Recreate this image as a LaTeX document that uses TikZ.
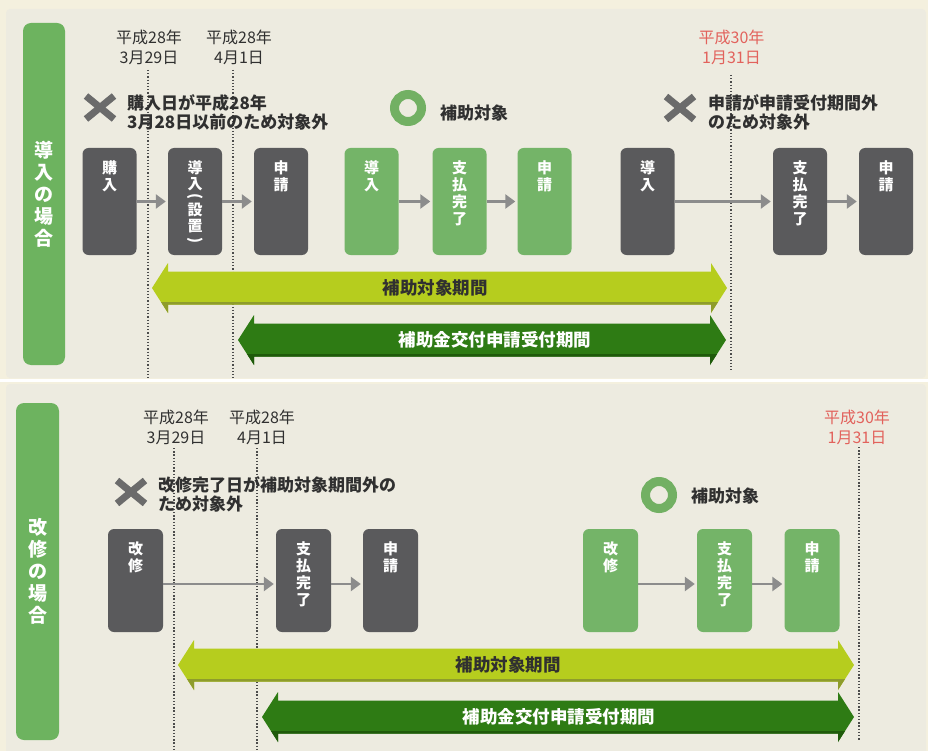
\documentclass[tikz,border=0pt]{standalone}
\usepackage{fontspec}
\usepackage{graphicx}
\newfontfamily\jp{Noto Sans CJK JP}
\usetikzlibrary{arrows.meta}
\definecolor{outerbg}{HTML}{F4F0DE}
\definecolor{panelbg}{HTML}{EDEBE0}
\definecolor{boxgray}{HTML}{5A5A5C}
\definecolor{boxgreen}{HTML}{74B468}
\definecolor{bargreen}{HTML}{6DB35F}
\definecolor{arrgray}{HTML}{8C8C8C}
\definecolor{xgray}{HTML}{6B6B6B}
\definecolor{ringgreen}{HTML}{72B063}
\definecolor{datered}{HTML}{E2625C}
\definecolor{lgreen}{HTML}{B6CD1E}
\definecolor{lgreenshade}{HTML}{8E9C2C}
\definecolor{dgreen}{HTML}{2E7B14}
\definecolor{dgreenshade}{HTML}{1F5A0B}
\definecolor{textdark}{HTML}{303030}
\tikzset{
 dbox/.style={rounded corners=6pt, fill=boxgray, minimum width=54pt, minimum height=107pt, inner sep=0pt},
 gbox/.style={dbox, fill=boxgreen},
 btxt/.style={font=\jp\bfseries\fontsize{15}{17}\selectfont, text=white, align=center, inner sep=0pt, anchor=north},
 bchar/.style={font=\jp\bfseries\fontsize{15}{17}\selectfont, text=white, inner sep=0pt},
 flow/.style={draw=arrgray, line width=2.8pt, -{Triangle[length=10pt,width=14pt]}, shorten >=2pt},
 vline/.style={draw=black!70, line width=1.3pt, dash pattern=on 1.3pt off 1.9pt},
 datetxt/.style={font=\jp\fontsize{16}{20}\selectfont, text=textdark, align=center, inner sep=0pt},
 labtxt/.style={font=\jp\bfseries\fontsize{17}{19}\selectfont, text=textdark, align=left, inner sep=0pt, anchor=west},
 xmark/.style={draw=xgray, line width=7pt},
 ring/.style={circle, draw=ringgreen, line width=9pt, minimum size=27pt, inner sep=0pt},
 sidebar/.style={rounded corners=8pt, fill=bargreen, inner sep=0pt},
 sidetxt/.style={font=\jp\bfseries\fontsize{19}{22}\selectfont, text=white, align=center, inner sep=0pt},
 arrtxt/.style={font=\jp\bfseries\fontsize{17.5}{20}\selectfont, inner sep=0pt},
}
% big double-headed band arrow: xl, xr, yc, fill, shade
\newcommand{\bigarr}[5]{%
 \path[fill=#4] (#1,#3) -- ({#1+16},{#3-25}) -- ({#1+16},{#3-16.5}) -- ({#2-16},{#3-16.5}) -- ({#2-16},{#3-25}) -- (#2,#3) -- ({#2-16},{#3+25}) -- ({#2-16},{#3+16.5}) -- ({#1+16},{#3+16.5}) -- ({#1+16},{#3+25}) -- cycle;
 \begin{scope}
 \clip (#1,#3) -- ({#1+16},{#3-25}) -- ({#1+16},{#3-16.5}) -- ({#2-16},{#3-16.5}) -- ({#2-16},{#3-25}) -- (#2,#3) -- ({#2-16},{#3+25}) -- ({#2-16},{#3+16.5}) -- ({#1+16},{#3+16.5}) -- ({#1+16},{#3+25}) -- cycle;
 \fill[#5] (#1,{#3+13.5}) rectangle (#2,{#3+30});
 \end{scope}
}
\begin{document}
\begin{tikzpicture}[x=1pt,y=-1pt]
\useasboundingbox (0,0) rectangle (928,751);
% backgrounds
\fill[outerbg] (0,0) rectangle (928,751);
\fill[panelbg, rounded corners=4pt] (6,9) rectangle (926,378);
\fill[white] (0,379) rectangle (928,381.5);
\fill[panelbg, rounded corners=4pt] (6,384) rectangle (926,760);

% ===== top panel =====
\node[sidebar, minimum width=42pt, minimum height=342pt] (side1) at (44,194) {};
\node[sidetxt] (side1t) at (side1.center) {導\\入\\の\\場\\合};

\node[datetxt] (d1) at (149,47) {平成28年\\3月29日};
\node[datetxt] (d2) at (239,47) {平成28年\\4月1日};
\node[datetxt, text=datered] (d3) at (731.5,47) {平成30年\\1月31日};

\coordinate (v1a) at (148,70); \coordinate (v1b) at (148,378);
\coordinate (v2a) at (233,70); \coordinate (v2b) at (233,378);
\coordinate (v3a) at (731,75); \coordinate (v3b) at (731,370);
\draw[vline] (v1a) -- (v1b);
\draw[vline] (v2a) -- (v2b);
\draw[vline] (v3a) -- (v3b);

\bigarr{152}{727}{288}{lgreen}{lgreenshade}
\node[arrtxt, text=textdark] (per1) at (435,288) {補助対象期間};
\bigarr{238}{726}{340}{dgreen}{dgreenshade}
\node[arrtxt, text=white] (acc1) at (495,340) {補助金交付申請受付期間};

\draw[xmark] (86,96) -- (114,119);
\draw[xmark] (86,119) -- (114,96);
\node[labtxt] (l1) at (127,112.5) {購入日が平成28年\\3月28日以前のため対象外};

\node[ring] (r1) at (408,108) {};
\node[labtxt] (l2) at (440,113) {補助対象};

\draw[xmark] (666,96.5) -- (694,119.5);
\draw[xmark] (666,119.5) -- (694,96.5);
\node[labtxt] (l3) at (708,112.5) {申請が申請受付期間外\\のため対象外};

\node[dbox] (a1) at (109.5,201.5) {};
\node[dbox] (a2) at (195,201.5) {};
\node[dbox] (a3) at (281,201.5) {};
\node[gbox] (a4) at (371.5,201.5) {};
\node[gbox] (a5) at (459.5,201.5) {};
\node[gbox] (a6) at (544.5,201.5) {};
\node[dbox] (a7) at (647.5,201.5) {};
\node[dbox] (a8) at (800,201.5) {};
\node[dbox] (a9) at (886,201.5) {};

\node[btxt] (a1t) at ([yshift=-13pt]a1.north) {購\\入};
\node[bchar] (a2c1) at (195,168) {導};
\node[bchar] (a2c2) at (195,184) {入};
\node[bchar] (a2c3) at (195,196.5) {\rotatebox{-90}{(}};
\node[bchar] (a2c4) at (195,210) {設};
\node[bchar] (a2c5) at (195,226) {置};
\node[bchar] (a2c6) at (195,240) {\rotatebox{-90}{)}};
\node[btxt] (a3t) at ([yshift=-13pt]a3.north) {申\\請};
\node[btxt] (a4t) at ([yshift=-13pt]a4.north) {導\\入};
\node[btxt] (a5t) at ([yshift=-13pt]a5.north) {支\\払\\完\\了};
\node[btxt] (a6t) at ([yshift=-13pt]a6.north) {申\\請};
\node[btxt] (a7t) at ([yshift=-13pt]a7.north) {導\\入};
\node[btxt] (a8t) at ([yshift=-13pt]a8.north) {支\\払\\完\\了};
\node[btxt] (a9t) at ([yshift=-13pt]a9.north) {申\\請};

\draw[flow] (a1.east) -- (a2.west);
\draw[flow] (a2.east) -- (a3.west);
\draw[flow] (a4.east) -- (a5.west);
\draw[flow] (a5.east) -- (a6.west);
\draw[flow] (a7.east) -- (a8.west);
\draw[flow] (a8.east) -- (a9.west);

% ===== bottom panel =====
\node[sidebar, minimum width=43pt, minimum height=337pt] (side2) at (37.5,571.5) {};
\node[sidetxt] (side2t) at (side2.center) {改\\修\\の\\場\\合};

\node[datetxt] (e1) at (176,427) {平成28年\\3月29日};
\node[datetxt] (e2) at (262,427) {平成28年\\4月1日};
\node[datetxt, text=datered] (e3) at (857,427) {平成30年\\1月31日};

\coordinate (w1a) at (174,448); \coordinate (w1b) at (174,751);
\coordinate (w2a) at (257,448); \coordinate (w2b) at (257,751);
\coordinate (w3a) at (859,447); \coordinate (w3b) at (859,740);
\draw[vline] (w1a) -- (w1b);
\draw[vline] (w2a) -- (w2b);
\draw[vline] (w3a) -- (w3b);

\bigarr{178}{854}{665}{lgreen}{lgreenshade}
\node[arrtxt, text=textdark] (per2) at (508,665) {補助対象期間};
\bigarr{262}{854}{717}{dgreen}{dgreenshade}
\node[arrtxt, text=white] (acc2) at (559,717) {補助金交付申請受付期間};

\draw[xmark] (117,480.5) -- (145,503.5);
\draw[xmark] (117,503.5) -- (145,480.5);
\node[labtxt] (m1) at (158,494) {改修完了日が補助対象期間外の\\ため対象外};

\node[ring] (r2) at (659,495) {};
\node[labtxt] (m2) at (691,496) {補助対象};

\node[dbox, minimum width=55pt, minimum height=103pt] (b1) at (135.5,580.5) {};
\node[dbox, minimum width=55pt, minimum height=103pt] (b2) at (303.5,580.5) {};
\node[dbox, minimum width=55pt, minimum height=103pt] (b3) at (390.5,580.5) {};
\node[gbox, minimum width=55pt, minimum height=103pt] (b4) at (610.5,580.5) {};
\node[gbox, minimum width=55pt, minimum height=103pt] (b5) at (724.5,580.5) {};
\node[gbox, minimum width=55pt, minimum height=103pt] (b6) at (812,580.5) {};

\node[btxt] (b1t) at ([yshift=-13pt]b1.north) {改\\修};
\node[btxt] (b2t) at ([yshift=-13pt]b2.north) {支\\払\\完\\了};
\node[btxt] (b3t) at ([yshift=-13pt]b3.north) {申\\請};
\node[btxt] (b4t) at ([yshift=-13pt]b4.north) {改\\修};
\node[btxt] (b5t) at ([yshift=-13pt]b5.north) {支\\払\\完\\了};
\node[btxt] (b6t) at ([yshift=-13pt]b6.north) {申\\請};

\draw[flow] ([yshift=-3.5pt]b1.east) -- ([yshift=-3.5pt]b2.west);
\draw[flow] ([yshift=-3.5pt]b2.east) -- ([yshift=-3.5pt]b3.west);
\draw[flow] ([yshift=-3.5pt]b4.east) -- ([yshift=-3.5pt]b5.west);
\draw[flow] ([yshift=-3.5pt]b5.east) -- ([yshift=-3.5pt]b6.west);
\end{tikzpicture}
\end{document}
